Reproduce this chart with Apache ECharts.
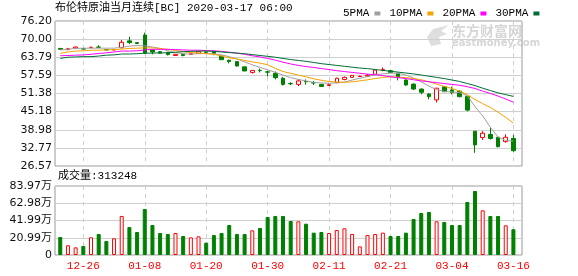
<!DOCTYPE html>
<html><head><meta charset="utf-8">
<script src="https://cdn.jsdelivr.net/npm/echarts@6/dist/echarts.min.js"></script>
<style>html,body{margin:0;padding:0;background:#fff}#c{width:578px;height:276px}</style>
</head><body><div id="c"></div>
<script>
const dates = ['12-20','12-23','12-24','12-26','12-27','12-30','12-31','01-02','01-03','01-06','01-07','01-08','01-09','01-10','01-13','01-14','01-15','01-16','01-17','01-20','01-21','01-22','01-23','01-24','01-27','01-28','01-29','01-30','01-31','02-03','02-04','02-05','02-06','02-07','02-10','02-11','02-12','02-13','02-14','02-17','02-18','02-19','02-20','02-21','02-24','02-25','02-26','02-27','02-28','03-02','03-03','03-04','03-05','03-06','03-09','03-10','03-11','03-12','03-13','03-16'];
const tickDates = ['12-26','01-08','01-20','01-30','02-11','02-21','03-04','03-16'];
const priceTicks = ['26.57','32.77','38.98','45.18','51.38','57.59','63.79','70.00','76.20'];
const volTicks = ['0','20.99万','41.99万','62.98万','83.97万'];

const open  = [66.8,66.4,66.9,66.7,67.1,67.3,66.4,66.3,67.06,69.4, 68.8,71.4,66.3,65.7,65.5,64.4,64.8,64.8,65.1,65.6, 65.8,64.2,62.8,62.3,60.5,58.6,59.3,58.8,58.3,56.6, 54.8,54.5,55.5,55.1,54.5,54.1,55.1,56.2,56.9,57.2, 57.3,57.95,59.5,59.2,58.3,56.0,54.6,52.9,51.2,49.2, 53.7,52.6,52.2,50.4,38.5,36.3,37.4,36.4,34.9,36.0];
const close = [66.5,66.7,67.3,66.6,67.2,67.2,66.3,66.4,68.9,68.8, 68.5,65.2,65.6,65.2,64.7,64.8,64.4,65.0,65.7,65.5, 65.1,62.95,62.3,60.8,59.1,59.3,59.2,58.7,56.8,54.5, 54.7,55.7,55.4,55.0,53.8,54.4,56.6,56.9,57.6,57.3, 57.6,59.4,59.6,58.5,56.9,54.3,52.9,51.8,50.3,53.2, 52.0,51.7,50.3,45.7,33.8,37.8,36.0,33.2,36.4,31.8];
const low   = [66.3,66.2,66.8,66.5,66.9,66.9,66.2,66.2,66.8,68.3, 68.3,64.9,64.8,65.0,64.4,64.2,64.1,64.7,65.0,65.3, 64.5,62.9,61.7,60.6,59.0,58.2,58.6,57.2,56.2,54.1, 54.3,53.9,54.4,54.3,53.6,54.0,55.0,55.9,56.8,57.0, 57.0,57.8,59.0,58.4,55.9,54.0,52.6,51.1,49.4,48.3, 51.9,51.1,50.1,45.3,31.1,35.5,35.6,32.9,34.6,31.5];
const high  = [67.0,67.0,67.4,66.9,67.4,67.9,66.5,66.6,69.7,70.8, 69.0,72.2,66.5,65.9,65.6,64.9,65.0,65.2,65.8,65.8, 66.0,64.3,62.9,62.5,60.6,59.4,59.9,59.1,58.9,57.1, 55.3,56.3,56.2,55.6,54.7,54.8,56.8,57.2,57.7,57.5, 58.1,59.6,60.3,59.4,58.4,56.2,54.8,53.1,51.5,53.3, 54.0,53.7,52.4,50.5,38.5,38.5,39.8,36.5,37.4,37.2];
const volume = [21.9,11.8,9.3,11.0,21.5,25.6,17.0,20.3,47.5,34.0, 28.0,56.0,36.5,26.8,25.6,26.8,23.1,21.5,22.7,15.0, 24.3,26.8,36.5,25.6,25.6,30.0,32.9,46.2,47.5,47.5, 41.4,41.0,38.1,27.2,28.0,26.8,30.4,32.5,25.6,10.5, 24.3,25.6,27.2,23.1,23.1,27.2,43.8,51.1,52.3,41.0, 40.2,36.5,36.5,64.5,77.9,54.4,47.5,47.5,36.1,31.32];
const ma5  = [66.3,66.5,66.8,66.9,66.9,66.9,66.9,66.9,67.2,67.6, 67.8,67.7,67.3,66.8,66.0,65.4,65.0,64.9,65.0,65.1, 65.0,64.6,64.0,63.2,62.2,61.2,60.3,59.5,58.6,57.7, 56.8,56.2,55.7,55.2,55.0,54.9,55.0,55.3,56.0,56.6, 57.2,57.8,58.1,58.4,58.3,57.7,56.7,55.4,53.9,52.7, 52.1,51.9,51.7,50.6,46.9,43.7,39.8,36.5,35.3,35.1];
const ma10 = [65.1,65.6,65.9,66.0,66.2,66.2,66.3,66.4,66.6,66.8, 66.9,67.0,67.0,66.8,66.5,66.1,65.7,65.4,65.2,65.0, 64.8,64.2,63.6,63.2,62.7,62.2,61.8,61.2,60.0,58.9, 58.3,57.7,57.1,56.4,55.9,55.5,55.3,55.2,55.4,55.7, 56.1,56.5,56.9,57.1,57.0,56.8,56.5,56.1,55.4,54.6, 53.8,53.1,52.2,51.0,49.3,47.9,46.6,45.0,43.2,41.3];
const ma20 = [64.3,64.4,64.5,64.6,64.8,65.1,65.3,65.6,65.9,65.9, 66.0,66.3,66.5,66.5,66.5,66.4,66.3,66.2,66.2,66.1, 66.0,65.8,65.5,65.2,64.8,64.3,63.9,63.4,62.8,62.1, 61.5,61.0,60.6,60.3,59.9,59.6,59.2,58.9,58.6,58.3, 58.0,57.8,57.5,57.1,56.8,56.5,56.1,55.7,55.4,55.1, 54.8,54.5,54.2,53.7,53.1,52.2,51.4,50.5,49.5,48.4];
const ma30 = [63.4,63.8,63.9,64.0,64.0,64.2,64.5,64.6,64.9,64.9, 65.0,65.2,65.2,65.3,65.3,65.5,65.7,65.8,65.9,65.9, 65.8,65.6,65.4,65.2,65.0,64.7,64.4,64.1,63.8,63.4, 63.0,62.7,62.4,62.0,61.6,61.3,61.0,60.7,60.4,60.1, 59.9,59.6,59.3,59.0,58.7,58.4,58.1,57.7,57.3,56.9, 56.5,56.0,55.5,54.8,54.1,53.2,52.4,51.6,51.0,50.4];

const RED = '#ff0000', GREEN = '#008000';
const pad = a => ['-'].concat(a, ['-']);
const cats = [''].concat(dates, ['']);
const candles = pad(dates.map((d, i) => [open[i], close[i], low[i], high[i]]));
const volData = pad(volume.map((v, i) => {
  const up = close[i] > open[i];
  return { value: v, itemStyle: up ? { color: '#fff', borderColor: RED, borderWidth: 1 } : { color: GREEN, borderColor: GREEN, borderWidth: 1 } };
}));
const isTick = (idx, val) => tickDates.indexOf(val) >= 0;

const AX = 'DejaVu Sans, Noto Sans CJK SC';
const MONO = "'Liberation Mono', 'Noto Sans CJK SC'";
const PMIN = 26.57, PMAX = 76.20;
const VMAX = 83.97;
const DL = 52.6, DW = 468.5;

const chart = echarts.init(document.getElementById('c'), null, { renderer: 'canvas' });
chart.setOption({
  animation: false,
  backgroundColor: '#fff',
  legend: {
    left: 338, top: 3, align: 'right', icon: 'rect', itemWidth: 6, itemHeight: 4, itemGap: 9,
    textStyle: { fontFamily: MONO, fontSize: 11, color: '#000', padding: 0 },
    data: ['5PMA', '10PMA', '20PMA', '30PMA']
  },
  graphic: [
    { type: 'text', left: 55, top: 3, style: { text: '布伦特原油当月连续[BC] 2020-03-17 06:00', font: "11px 'Liberation Mono', 'Noto Sans CJK SC'", fill: '#000' } },
    { type: 'text', left: 58, top: 171, style: { text: '成交量:313248', font: "11px 'Liberation Mono', 'Noto Sans CJK SC'", fill: '#000' } },
    { type: 'polygon', z: -1, shape: { points: [[431,46],[427,37],[433,29],[449,25],[441,31],[447,34],[439,37],[441,44]] }, style: { fill: '#dedede' } },
    { type: 'text', left: 452, top: 24, z: -1, style: { text: '东方财富网', font: "bold 14px 'Noto Sans CJK SC'", fill: '#d6d6d6' } },
    { type: 'text', left: 452, top: 38, z: -1, style: { text: 'eastmoney.com', font: "bold 10px 'DejaVu Sans'", fill: '#d6d6d6' } }
  ],
  grid: [
    { left: 55, top: 21, width: 467, height: 145, show: true, borderColor: '#999', borderWidth: 1 },
    { left: DL, top: 21, width: DW, height: 145, show: false },
    { left: 55, top: 186, width: 467, height: 69, show: true, borderColor: '#999', borderWidth: 1 },
    { left: DL, top: 186, width: DW, height: 69, show: false }
  ],
  xAxis: [
    { gridIndex: 0, type: 'value', min: 0, max: 1, show: false },
    { gridIndex: 1, type: 'category', data: cats, boundaryGap: false,
      axisLine: { show: false }, axisTick: { show: false }, axisLabel: { show: false },
      splitLine: { show: true, interval: isTick, lineStyle: { color: '#cfcfcf', type: [4, 4], width: 1 } } },
    { gridIndex: 2, type: 'value', min: 0, max: 1, show: false },
    { gridIndex: 3, type: 'category', data: cats, boundaryGap: false,
      axisLine: { show: false }, axisTick: { show: false },
      axisLabel: { show: true, interval: isTick, color: RED, fontFamily: MONO, fontSize: 11, margin: 6 },
      splitLine: { show: true, interval: isTick, lineStyle: { color: '#cfcfcf', type: [4, 4], width: 1 } } }
  ],
  yAxis: [
    { gridIndex: 0, type: 'value', min: PMIN, max: PMAX, interval: (PMAX - PMIN) / 8,
      axisLine: { show: false }, axisTick: { show: false },
      axisLabel: { formatter: (v, i) => priceTicks[i], color: '#111', fontFamily: AX, fontSize: 11, margin: 3 },
      splitLine: { show: true, lineStyle: { color: '#d0d0d0', width: 1 } } },
    { gridIndex: 1, type: 'value', min: PMIN, max: PMAX, show: false },
    { gridIndex: 2, type: 'value', min: 0, max: VMAX, interval: VMAX / 4,
      axisLine: { show: false }, axisTick: { show: false },
      axisLabel: { formatter: (v, i) => volTicks[i], color: '#111', fontFamily: AX, fontSize: 11, margin: 3 },
      splitLine: { show: true, lineStyle: { color: '#d0d0d0', width: 1 } } },
    { gridIndex: 3, type: 'value', min: 0, max: VMAX, show: false }
  ],
  series: [
    { name: 'K', type: 'candlestick', xAxisIndex: 1, yAxisIndex: 1, data: candles, barWidth: 4,
      itemStyle: { color: '#fff', color0: GREEN, borderColor: RED, borderColor0: GREEN, borderWidth: 1 } },
    { name: '5PMA', type: 'line', xAxisIndex: 1, yAxisIndex: 1, data: pad(ma5), showSymbol: false, symbol: 'none', color: '#a0a0a0', lineStyle: { width: 1, color: '#a0a0a0' } },
    { name: '10PMA', type: 'line', xAxisIndex: 1, yAxisIndex: 1, data: pad(ma10), showSymbol: false, symbol: 'none', color: '#f5a300', lineStyle: { width: 1, color: '#f5a300' } },
    { name: '20PMA', type: 'line', xAxisIndex: 1, yAxisIndex: 1, data: pad(ma20), showSymbol: false, symbol: 'none', color: '#ff00ff', lineStyle: { width: 1, color: '#ff00ff' } },
    { name: '30PMA', type: 'line', xAxisIndex: 1, yAxisIndex: 1, data: pad(ma30), showSymbol: false, symbol: 'none', color: '#006e35', lineStyle: { width: 1, color: '#006e35' } },
    { name: 'VOL', type: 'bar', xAxisIndex: 3, yAxisIndex: 3, data: volData, barWidth: 4 }
  ]
});
</script></body></html>
